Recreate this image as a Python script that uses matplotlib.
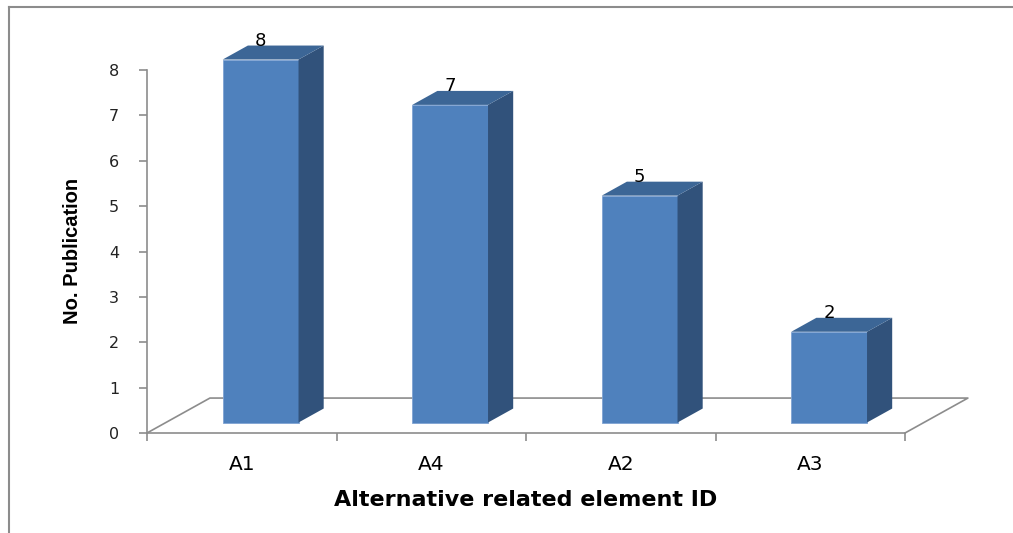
import matplotlib
matplotlib.use("Agg")
import matplotlib.pyplot as plt
from matplotlib.patches import Polygon
from matplotlib.lines import Line2D

categories = ["A1", "A4", "A2", "A3"]
counts = [8, 7, 5, 2]
yticks = list(range(0, 9))

# fake 3D: floor depth in data units, bars occupy 30%..70% of the depth
DX, DY = 0.332, 0.77
z0, z1 = 0.3, 0.7
bw = 0.4

c_front = "#4F81BD"
c_side = "#31527B"
c_top = "#3C6696"
grey = "#8C8C8C"

W, H = 1013, 533
fig = plt.figure(figsize=(W / 100, H / 100), dpi=100)
ax = fig.add_axes([147 / W, 100 / H, 758 / W, 363 / H])
ax.set_xlim(0, len(categories))
ax.set_ylim(0, 8)

# floor outline (front edge is the bottom spine)
n = len(categories)
ax.plot([0, DX, n + DX, n], [0, DY, DY, 0], color=grey, lw=1.2, clip_on=False, zorder=1)

ox, oy = z0 * DX, z0 * DY
sx, sy = (z1 - z0) * DX, (z1 - z0) * DY
for i, v in enumerate(counts):
    cx = i + 0.5 + ox
    l, r = cx - bw / 2, cx + bw / 2
    t = v + oy
    ax.bar(cx, v, width=bw, bottom=oy, color=c_front, edgecolor="#7FA3D3",
           lw=0.6, zorder=3, clip_on=False)
    ax.add_patch(Polygon([(r, oy), (r + sx, oy + sy), (r + sx, t + sy), (r, t)],
                         closed=True, facecolor=c_side, edgecolor="none",
                         zorder=3, clip_on=False))
    ax.add_patch(Polygon([(l, t), (l + sx, t + sy), (r + sx, t + sy), (r, t)],
                         closed=True, facecolor=c_top, edgecolor="none",
                         zorder=3, clip_on=False))
    ax.text(cx, t + 0.3, str(v), ha="center", va="baseline", fontsize=13,
            color="black", zorder=4)

for s in ("top", "right"):
    ax.spines[s].set_visible(False)
for s in ("left", "bottom"):
    ax.spines[s].set_color(grey)
    ax.spines[s].set_linewidth(1.2)

ax.set_yticks(yticks)
ax.tick_params(axis="y", length=6, width=1.2, color=grey, pad=14, labelsize=11.5,
               labelcolor="#222222")
ax.set_xticks(range(n + 1))
ax.set_xticklabels([])
ax.set_xticks([i + 0.5 for i in range(n)], minor=True)
ax.set_xticklabels(categories, minor=True, fontsize=14.5)
ax.tick_params(axis="x", which="major", length=6, width=1.2, color=grey)
ax.tick_params(axis="x", which="minor", length=0, pad=16)

fig.text(73 / W, 1 - 251 / H, "No. Publication", rotation=90, ha="center",
         va="center", fontsize=14.5, fontweight="bold", family="Liberation Sans")
fig.text(526 / W, 1 - 500 / H, "Alternative related element ID", ha="center",
         va="center", fontsize=16, fontweight="bold")

# chart area border (only top and left edges fall inside the image)
fig.add_artist(Line2D([9 / W, 9 / W], [0, 1 - 7 / H], color=grey, lw=1.5))
fig.add_artist(Line2D([9 / W, 1], [1 - 7 / H, 1 - 7 / H], color=grey, lw=1.5))

fig.savefig("out.png", dpi=100)
